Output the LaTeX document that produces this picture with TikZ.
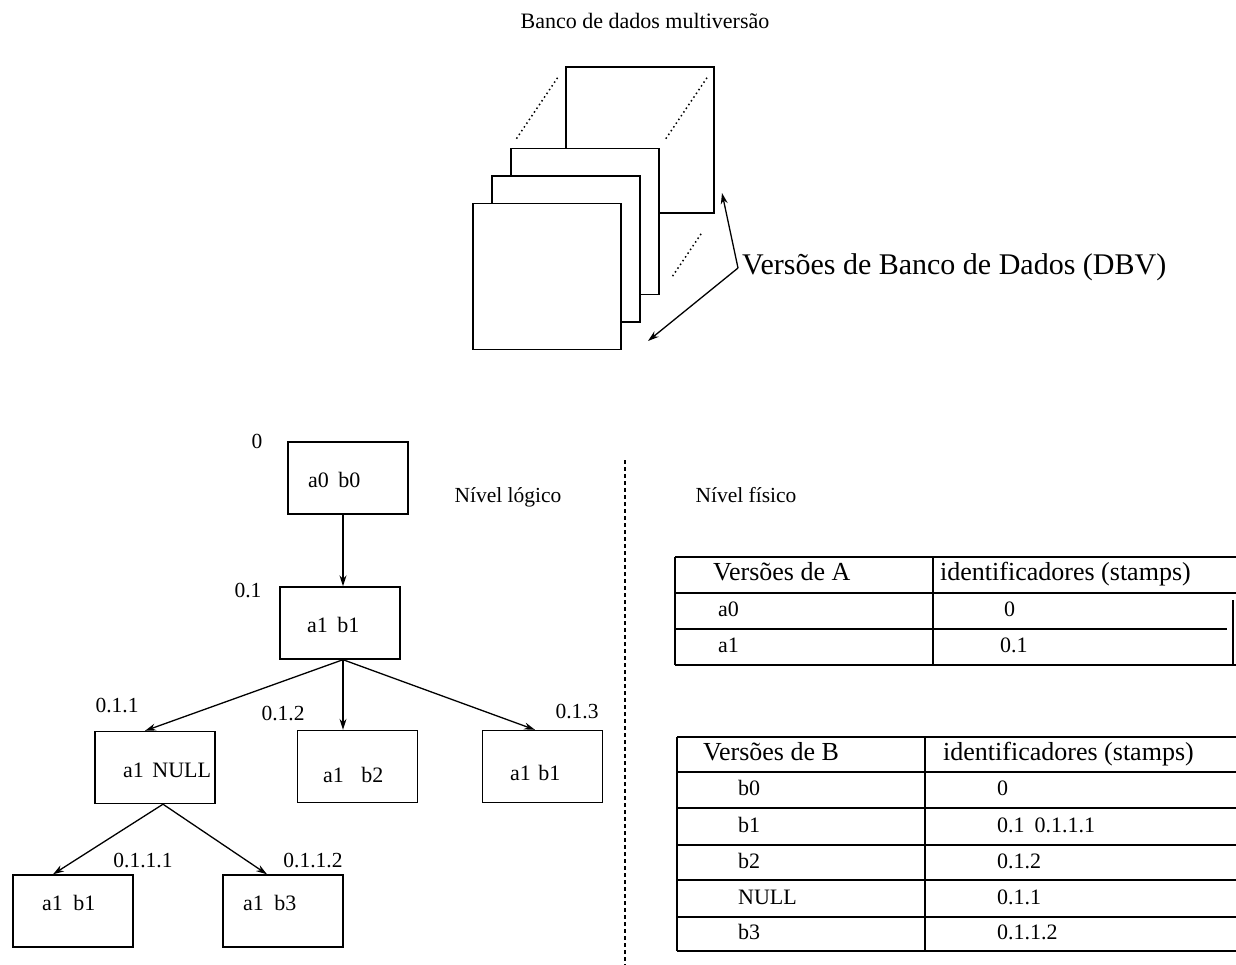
\documentclass[tikz,border=0pt]{standalone}
\usepackage{fontspec}
\setmainfont{Liberation Serif}
\usetikzlibrary{arrows.meta}
\begin{document}
\begin{tikzpicture}[x=1pt,y=-1pt,
  ln/.style={line width=1.4pt},
  box/.style={draw,line width=1.4pt,minimum width=120pt,minimum height=72pt,inner sep=0pt},
  sheet/.style={draw,fill=white,line width=1.4pt,inner sep=0pt,minimum width=148pt,minimum height=146pt},
  dotl/.style={line width=1.5pt,dash pattern=on 1.5pt off 3pt},
  arr/.style={line width=1.3pt,-{Stealth[length=11pt,width=7pt]}},
  tt/.style={inner sep=0pt,anchor=west,text height=.7em,text depth=.2em,font=\fontsize{22}{26}\selectfont},
  lbl/.style={inner sep=0pt,text height=.7em,text depth=.2em,font=\fontsize{21.5}{25}\selectfont},
  big/.style={inner sep=0pt,anchor=west,text height=.7em,text depth=.2em,font=\fontsize{26}{30}\selectfont},
  cell/.style={inner sep=0pt,anchor=west,text height=.7em,text depth=.2em,font=\fontsize{22}{26}\selectfont},
]
\useasboundingbox (0,0) rectangle (1236,965);

% ---- multiversion database sketch ----
\node[lbl,font=\fontsize{22}{26}\selectfont] (title) at (645,26) {Banco de dados multiversão};
\node[sheet] (s0) at (640,140) {};
\node[sheet] (s1) at (585,221.5) {};
\draw[dotl,shorten <=11pt,shorten >=13pt] (s1.north west) -- (s0.north west);
\draw[dotl,shorten <=11pt,shorten >=13pt] (s1.north east) -- (s0.north east);
\draw[dotl,shorten <=23pt,shorten >=22pt] (s1.south east) -- (s0.south east);
\node[sheet] (s2) at (566,249) {};
\node[sheet] (s3) at (547,276.5) {};
\node[anchor=west,inner sep=0pt,text height=.7em,text depth=.2em,font=\fontsize{30}{36}\selectfont] (dbv) at (742,272) {Versões de Banco de Dados (DBV)};
\coordinate (t1) at (722,193);
\coordinate (t2) at (648,341);
\draw[arr] ([xshift=-4pt,yshift=4pt]dbv.west) -- (t1);
\draw[arr] ([xshift=-4pt,yshift=4pt]dbv.west) -- (t2);

% ---- logical level tree ----
\node[box] (n0) at (348,478) {};
\node[box] (n1) at (340,623) {};
\node[box] (n11) at (155,767.5) {};
\node[box] (n12) at (357.5,766.5) {};
\node[box] (n13) at (542.5,766.5) {};
\node[box] (n111) at (73,911) {};
\node[box] (n112) at (283,911) {};

\node[tt] (t0) at (308,485) {a0\hspace{4pt} b0};
\node[tt] (t1b) at (307,630) {a1\hspace{4pt} b1};
\node[tt] (t11) at (123,775) {a1\hspace{3pt} NULL};
\node[tt] (t12) at (323,780) {a1\hspace{12pt} b2};
\node[tt] (t13) at (510,778) {a1\hspace{2pt} b1};
\node[tt] (t111) at (42,908) {a1\hspace{5pt} b1};
\node[tt] (t112) at (243,908) {a1\hspace{5pt} b3};

\node[lbl] (l0) at (257,446) {0};
\node[lbl] (l1) at (248,595) {0.1};
\node[lbl] (l11) at (117,710) {0.1.1};
\node[lbl] (l12) at (283,718) {0.1.2};
\node[lbl] (l13) at (577,716) {0.1.3};
\node[lbl] (l111) at (143,865) {0.1.1.1};
\node[lbl] (l112) at (313,865) {0.1.1.2};

\draw[arr] ([xshift=-5pt]n0.south) -- ([xshift=3pt]n1.north);
\draw[arr] ([xshift=3pt]n1.south) -- ([xshift=-10pt]n11.north);
\draw[arr] ([xshift=3pt]n1.south) -- ([xshift=-14.5pt]n12.north);
\draw[arr] ([xshift=3pt]n1.south) -- ([xshift=-7.5pt]n13.north);
\draw[arr] ([xshift=8pt]n11.south) -- ([xshift=-20pt]n111.north);
\draw[arr] ([xshift=8pt]n11.south) -- ([xshift=-16pt]n112.north);

\node[lbl] (nl) at (508,500) {Nível lógico};

% ---- divider ----
\coordinate (dtop) at (625,460);
\coordinate (dbot) at (625,965);
\draw[line width=1.4pt,dash pattern=on 4pt off 3pt] (dtop) -- (dbot);

% ---- physical level ----
\node[lbl] (nf) at (746,500) {Nível físico};

% table A
\draw[ln] (675,557) -- (1236,557);
\draw[ln] (675,593) -- (1236,593);
\draw[ln] (675,629) -- (1227,629);
\draw[ln] (675,665) -- (1236,665);
\draw[ln] (675,557) -- (675,665);
\draw[ln] (933,557) -- (933,665);
\draw[ln] (1233,600) -- (1233,665);
\node[big] (ha) at (713,578) {Versões de A};
\node[big] (hia) at (940,578) {identificadores (stamps)};
\node[cell] (a0) at (718,614) {a0};
\node[cell] (a1) at (718,650) {a1};
\node[cell] (sa0) at (1004,614) {0};
\node[cell] (sa1) at (1000,650) {0.1};

% table B
\foreach \yy in {737,772,808,845,880,917,951} {\draw[ln] (677,\yy) -- (1236,\yy);}
\draw[ln] (677,737) -- (677,951);
\draw[ln] (925,737) -- (925,951);
\node[big] (hb) at (703,758) {Versões de B};
\node[big] (hib) at (943,758) {identificadores (stamps)};
\node[cell] (b0) at (738,793) {b0};
\node[cell] (b1) at (738,830) {b1};
\node[cell] (b2) at (738,866) {b2};
\node[cell] (bn) at (738,902) {NULL};
\node[cell] (b3) at (738,937) {b3};
\node[cell] (sb0) at (997,793) {0};
\node[cell] (sb1) at (997,830) {0.1\hspace{10pt}0.1.1.1};
\node[cell] (sb2) at (997,866) {0.1.2};
\node[cell] (sbn) at (997,902) {0.1.1};
\node[cell] (sb3) at (997,937) {0.1.1.2};
\end{tikzpicture}
\end{document}
